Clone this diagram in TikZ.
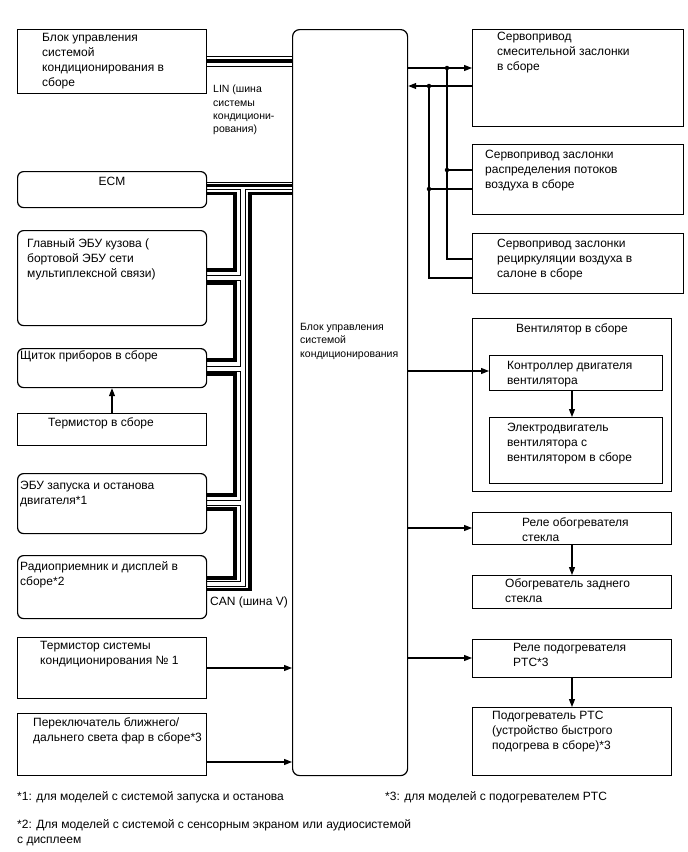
\documentclass[tikz,border=0pt]{standalone}
\usepackage{fontspec}
\setmainfont{Liberation Sans}
\usetikzlibrary{arrows.meta,backgrounds}
\newcommand\mkbox[6]{\node[#2, minimum width=#5pt-#3pt, minimum height=#6pt-#4pt] (#1) at (#3,#4) {};}
\begin{document}
\begin{tikzpicture}[x=1pt,y=-1pt,
  box/.style={draw, line width=1.2pt, inner sep=0, anchor=north west},
  rbox/.style={box, rounded corners=6pt},
  txt/.style={inner sep=0, anchor=north west, align=left, font=\fontsize{12}{15}\selectfont},
  stxt/.style={txt, font=\fontsize{10.5}{13.3}\selectfont},
  ln/.style={line width=1.2pt},
  arr/.style={ln, -{Triangle[length=8pt,width=6pt]}},
  dot/.style={circle, fill, inner sep=0, minimum size=4.5pt},
  blk/.style={line width=3.5pt},
]
\useasboundingbox (0,0) rectangle (688,852);
% left boxes
\mkbox{l1}{box}{17}{29}{206}{93}
\mkbox{l2}{rbox}{17}{171}{206}{207}
\mkbox{l3}{rbox}{17}{230}{206}{325}
\mkbox{l4}{rbox}{17}{348}{206}{387}
\mkbox{l5}{box}{17}{413}{206}{445}
\mkbox{l6}{rbox}{17}{473}{206}{533}
\mkbox{l7}{rbox}{17}{555}{206}{618}
\mkbox{l8}{box}{17}{637}{206}{698}
\mkbox{l9}{box}{17}{713}{206}{775}
% central
\mkbox{cb}{box, rounded corners=7pt}{292}{29}{407}{775}
% right boxes
\mkbox{r1}{box}{472}{29}{683}{126}
\mkbox{r2}{box}{472}{144}{683}{214}
\mkbox{r3}{box}{472}{233}{683}{293}
\mkbox{fan}{box}{472}{318}{671}{491}
\mkbox{fc}{box}{489}{355}{662}{390}
\mkbox{fm}{box}{489}{417}{662}{483}
\mkbox{rd}{box}{472}{512}{671}{544}
\mkbox{rr}{box}{472}{575}{671}{608}
\mkbox{pr}{box}{472}{639}{671}{677}
\mkbox{ph}{box}{472}{707}{671}{775}
% texts
\node[txt] (t1) at (42,33) {Блок управления\\системой\\кондиционирования в\\сборе};
\node[txt, anchor=center] (t2) at (112,181) {ECM};
\node[txt] (t3) at (27,238) {Главный ЭБУ кузова (\\бортовой ЭБУ сети\\мультиплексной связи)};
\node[txt] (t4) at (20,350) {Щиток приборов в сборе};
\node[txt] (t5) at (48,417) {Термистор в сборе};
\node[txt] (t6) at (20,481) {ЭБУ запуска и останова\\двигателя*1};
\node[txt] (t7) at (20,561) {Радиоприемник и дисплей в\\сборе*2};
\node[txt] (t8) at (40,641) {Термистор системы\\кондиционирования №~1};
\node[txt] (t9) at (33,717) {Переключатель ближнего/\\дальнего света фар в сборе*3};
\node[stxt] (tc) at (300,323) {Блок управления\\системой\\кондиционирования};
\node[stxt] (tlin) at (213,85) {LIN (шина\\системы\\кондициони-\\рования)};
\node[txt] (tcan) at (210,597) {CAN (шина V)};
\node[txt] (tr1) at (497,32) {Сервопривод\\смесительной заслонки\\в сборе};
\node[txt] (tr2) at (485,150) {Сервопривод заслонки\\распределения потоков\\воздуха в сборе};
\node[txt] (tr3) at (497,239) {Сервопривод заслонки\\рециркуляции воздуха в\\салоне в сборе};
\node[txt, anchor=north] (tf) at (572,323) {Вентилятор в сборе};
\node[txt] (tfc) at (507,361) {Контроллер двигателя\\вентилятора};
\node[txt] (tfm) at (507,423) {Электродвигатель\\вентилятора с\\вентилятором в сборе};
\node[txt] (trd) at (522,517) {Реле обогревателя\\стекла};
\node[txt] (trr) at (505,578) {Обогреватель заднего\\стекла};
\node[txt] (tpr) at (513,643) {Реле подогревателя\\PTC*3};
\node[txt] (tph) at (492,711) {Подогреватель PTC\\(устройство быстрого\\подогрева в сборе)*3};
\node[txt] (f1) at (17,791) {*1: для моделей с системой запуска и останова};
\node[txt] (f3) at (385,791) {*3: для моделей с подогревателем PTC};
\node[txt] (f2) at (17,819) {*2: Для моделей с системой с сенсорным экраном или аудиосистемой\\с дисплеем};
% junction coordinates
\node[dot] (ja) at (447,68) {};
\node[dot] (jb) at (429,86) {};
\node[dot] (jc) at (447,170) {};
\node[dot] (jd) at (429,189) {};
\coordinate (ce) at (447,259);
\coordinate (cf) at (429,278);
% servo connectors
\draw[ln] (cb.east |- ja) -- (ja);
\draw[arr] (ja) -- (r1.west |- ja);
\draw[arr] (r1.west |- jb) -- (cb.east |- jb);
\draw[ln] (ja) -- (jc) -- (ce) -- (r3.west |- ce);
\draw[ln] (jc) -- (r2.west |- jc);
\draw[ln] (jb) -- (jd) -- (cf) -- (r3.west |- cf);
\draw[ln] (jd) -- (r2.west |- jd);
% other arrows
\draw[arr] (cb.east |- 0,371) -- (fc.west |- 0,371);
\draw[arr] (fc.south -| 572,0) -- (fm.north -| 572,0);
\draw[arr] (cb.east |- 0,528) -- (rd.west |- 0,528);
\draw[arr] (rd.south -| 572,0) -- (rr.north -| 572,0);
\draw[arr] (cb.east |- 0,658) -- (pr.west |- 0,658);
\draw[arr] (pr.south -| 572,0) -- (ph.north -| 572,0);
\draw[arr] (l8.east |- 0,668) -- (cb.west |- 0,668);
\draw[arr] (l9.east |- 0,762) -- (cb.west |- 0,762);
\draw[arr] (l5.north -| 112,0) -- (l4.south -| 112,0);
% buses
\begin{scope}[on background layer]
  % outlines
  \draw[line width=11pt] (l1.east |- 0,61) -- (cb.west |- 0,61);
  \draw[line width=8pt] (l2.east |- 0,185.5) -- (cb.west |- 0,185.5);
  \draw[line width=6pt] (242.5,185.5) -- (242.5,584) -- (l7.east |- 0,584);
  \draw[line width=6pt] (l3.east |- 0,278) -- (242.5,278);
  \draw[line width=6pt] (l4.east |- 0,368.5) -- (242.5,368.5);
  \draw[line width=6pt] (l6.east |- 0,503) -- (242.5,503);
  % white interiors
  \draw[white, line width=9pt] (l1.east |- 0,61) -- (cb.west |- 0,61);
  \draw[white, line width=6pt] (l2.east |- 0,185.5) -- (cb.west |- 0,185.5);
  \draw[white, line width=4pt] (242.5,185.5) -- (242.5,584) -- (l7.east |- 0,584);
  \draw[white, line width=4pt] (l3.east |- 0,278) -- (242.5,278);
  \draw[white, line width=4pt] (l4.east |- 0,368.5) -- (242.5,368.5);
  \draw[white, line width=4pt] (l6.east |- 0,503) -- (242.5,503);
  % cores
  \draw[line width=3.5pt] (l1.east |- 0,61) -- (cb.west |- 0,61);
  \draw[line width=3pt] (l2.east |- 0,185.5) -- (cb.west |- 0,185.5);
  % black CAN wires
  \draw[blk] (l2.east |- 0,193.5) -- (235,193.5) -- (235,270) -- (l3.east |- 0,270);
  \draw[blk] (l3.east |- 0,283) -- (235,283) -- (235,360) -- (l4.east |- 0,360);
  \draw[blk] (l4.east |- 0,374) -- (235,374) -- (235,495) -- (l6.east |- 0,495);
  \draw[blk] (l6.east |- 0,509) -- (235,509) -- (235,578) -- (l7.east |- 0,578);
  \draw[blk] (cb.west |- 0,193.5) -- (250,193.5) -- (250,589.5) -- (l7.east |- 0,589.5);
\end{scope}
\end{tikzpicture}
\end{document}
